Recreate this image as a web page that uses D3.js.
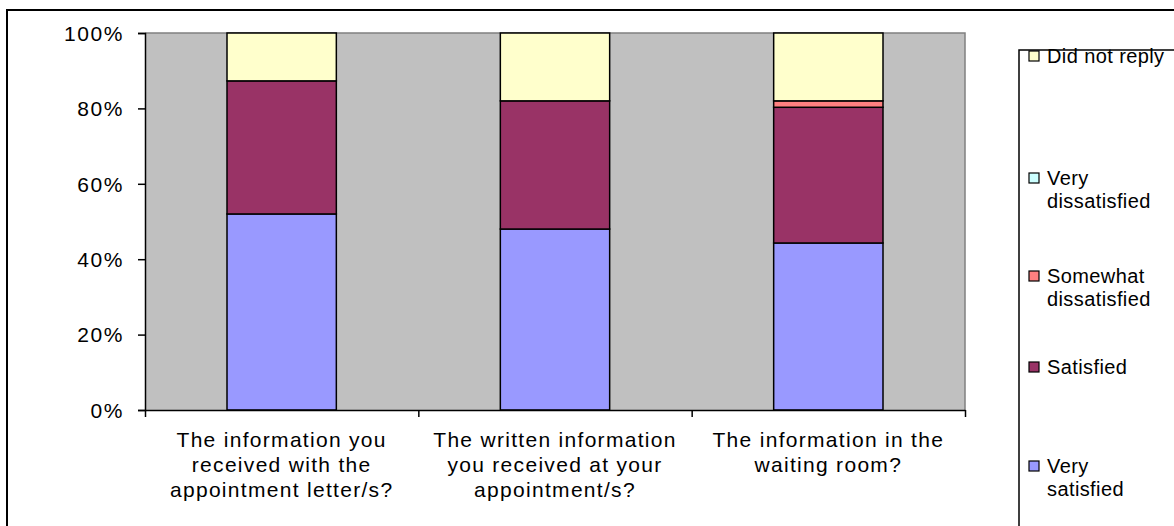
<!DOCTYPE html>
<html><head><meta charset="utf-8">
<script src="https://cdn.jsdelivr.net/npm/d3@7"></script>
<style>body{margin:0;background:#fff}svg{display:block}text{font-family:"Liberation Sans",Arial,sans-serif;fill:#000}</style>
</head><body>
<svg id="c" width="1174" height="526"></svg>
<script>
const categories = [
  ["The information you","received with the","appointment letter/s?"],
  ["The written information","you received at your","appointment/s?"],
  ["The information in the","waiting room?"]
];
const seriesNames = ["Very satisfied","Satisfied","Somewhat dissatisfied","Very dissatisfied","Did not reply"];
const seriesColors = ["#9999FF","#993366","#FF8080","#CCFFFF","#FFFFCC"];
const verySatisfied = [52.0, 48.0, 44.3];
const satisfied = [35.3, 34.0, 36.0];
const somewhatDissatisfied = [0, 0, 1.7];
const veryDissatisfied = [0, 0, 0];
const didNotReply = [12.7, 18.0, 18.0];
const yTicks = [0, 20, 40, 60, 80, 100];

const svg = d3.select("#c");
// outer border
svg.append("rect").attr("x",7).attr("y",10).attr("width",1200).attr("height",560)
  .attr("fill","#fff").attr("stroke","#000").attr("stroke-width",2);

const L=145, R=965, T=33, B=410;
const x = d3.scaleBand().domain(d3.range(categories.length)).range([L,R]).padding(0);
const y = d3.scaleLinear().domain([0,100]).range([B,T]);

svg.append("rect").attr("x",L).attr("y",T).attr("width",R-L).attr("height",B-T)
  .attr("fill","#C0C0C0");
svg.append("path").attr("d",`M${L},${T}H${R}V${B}`).attr("fill","none").attr("stroke","#808080").attr("stroke-width",1.5);

const rows = categories.map((c,i)=>({i, v0:verySatisfied[i], v1:satisfied[i], v2:somewhatDissatisfied[i], v3:veryDissatisfied[i], v4:didNotReply[i]}));
const stack = d3.stack().keys(["v0","v1","v2","v3","v4"])(rows);
const bw = x.bandwidth()*0.4;
stack.forEach((layer,k)=>{
  svg.append("g").selectAll("rect").data(layer.filter(d=>d[1]-d[0]>0)).enter().append("rect")
    .attr("x",d=>x(d.data.i)+x.bandwidth()/2-bw/2)
    .attr("width",bw)
    .attr("y",d=>y(d[1]))
    .attr("height",d=>y(d[0])-y(d[1]))
    .attr("fill",seriesColors[k]).attr("stroke","#000").attr("stroke-width",1.5);
});

// y axis
const ya = svg.append("g").attr("transform",`translate(${L},0)`)
  .call(d3.axisLeft(y).tickValues(yTicks).tickFormat(d=>d+"%").tickSize(7).tickPadding(14));
ya.select(".domain").attr("stroke","#000").attr("stroke-width",1.5);
ya.selectAll(".tick line").attr("stroke","#000").attr("stroke-width",1.5);
ya.selectAll("text").attr("font-size",21).attr("letter-spacing","1.6px")
  .attr("font-family","Liberation Sans, Arial, sans-serif").attr("fill","#000").attr("dy","0.35em");

// x axis
const xl = d3.scaleLinear().domain([0,categories.length]).range([L,R]);
const xa = svg.append("g").attr("transform",`translate(0,${B})`)
  .call(d3.axisBottom(xl).tickValues(d3.range(categories.length+1)).tickFormat("").tickSize(7).tickSizeOuter(0));
xa.select(".domain").attr("stroke","#000").attr("stroke-width",1.5);
xa.selectAll(".tick line").attr("stroke","#000").attr("stroke-width",1.5);

categories.forEach((lines,i)=>{
  const cx = x(i)+x.bandwidth()/2;
  const t = svg.append("text").attr("x",cx).attr("y",447)
    .attr("text-anchor","middle").attr("font-size",21).attr("letter-spacing","1.3px");
  lines.forEach((ln,j)=>t.append("tspan").attr("x",cx).attr("dy",j?25:0).text(ln));
});

// legend
svg.append("rect").attr("x",1019).attr("y",50).attr("width",200).attr("height",520)
  .attr("fill","#fff").attr("stroke","#000").attr("stroke-width",1.5);
const legendItems = [
  {k:4, lines:["Did not reply"], y:56},
  {k:3, lines:["Very","dissatisfied"], y:178},
  {k:2, lines:["Somewhat","dissatisfied"], y:276},
  {k:1, lines:["Satisfied"], y:367},
  {k:0, lines:["Very","satisfied"], y:466}
];
legendItems.forEach(it=>{
  svg.append("rect").attr("x",1029).attr("y",it.y-5).attr("width",10).attr("height",10)
    .attr("fill",seriesColors[it.k]).attr("stroke","#000").attr("stroke-width",1.2);
  const t = svg.append("text").attr("x",1047).attr("y",it.y+7).attr("font-size",20).attr("letter-spacing","0.4px");
  it.lines.forEach((ln,j)=>t.append("tspan").attr("x",1047).attr("dy",j?23:0).text(ln));
});
</script>
</body></html>
